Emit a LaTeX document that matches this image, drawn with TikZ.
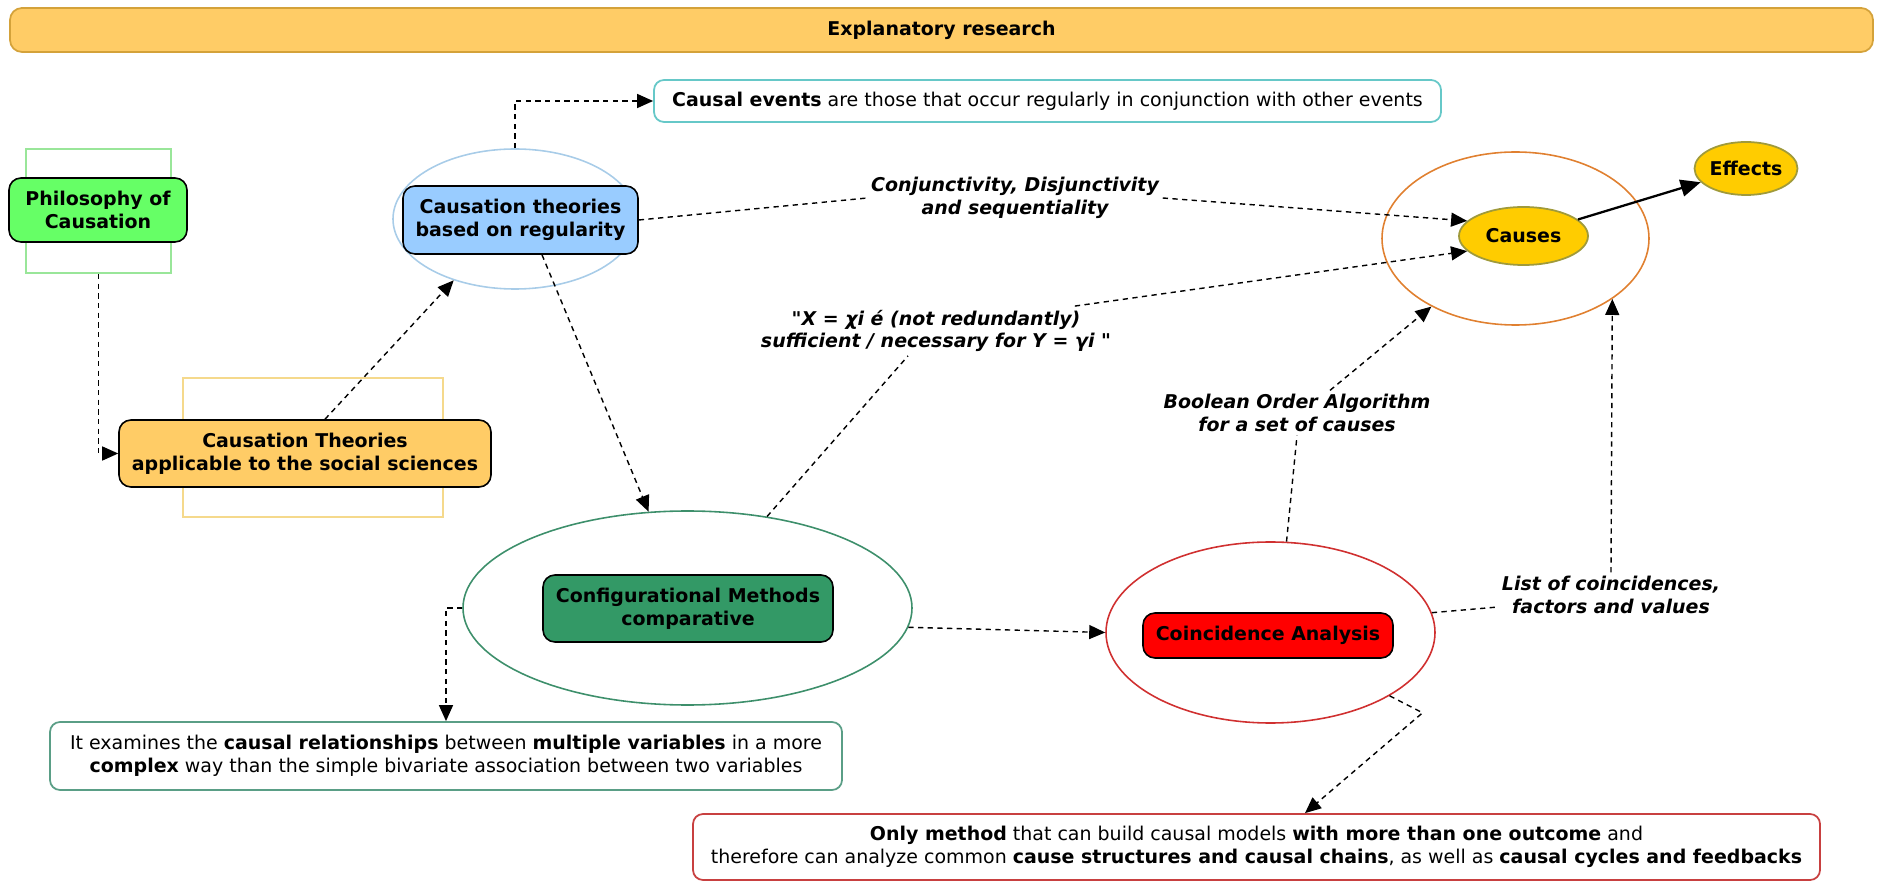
\documentclass[tikz,border=0pt]{standalone}
\usepackage{fontspec}
\setmainfont{DejaVu Sans}[Ligatures=TeXOff]
\usepackage{tikz}
\usetikzlibrary{arrows.meta,shapes.geometric}
\definecolor{bannerY}{HTML}{FFCC66}
\definecolor{bannerLine}{HTML}{D4A23A}
\definecolor{evTeal}{HTML}{66C8C8}
\definecolor{phGreen}{HTML}{66FF66}
\definecolor{phGreenL}{HTML}{99E699}
\definecolor{appY}{HTML}{FFCC66}
\definecolor{appYL}{HTML}{F5D98C}
\definecolor{regBlue}{HTML}{99CCFF}
\definecolor{regBlueL}{HTML}{A8CCE8}
\definecolor{confGreen}{HTML}{339966}
\definecolor{confGreenL}{HTML}{3D8F6B}
\definecolor{coinRed}{HTML}{FF0000}
\definecolor{coinRedL}{HTML}{D03030}
\definecolor{causOrange}{HTML}{E08030}
\definecolor{causY}{HTML}{FFCC00}
\definecolor{causLine}{HTML}{A09A3A}
\definecolor{examGreen}{HTML}{5A9E86}
\definecolor{onlyRed}{HTML}{C84040}
\newcommand{\chartsize}{\fontsize{10.8}{13}\selectfont}

\begin{document}
\begin{tikzpicture}[
  >={Triangle[length=3.2mm,width=2.8mm]},
  keybox/.style={rectangle, rounded corners=2.4mm, draw=black, line width=0.9pt,
                 align=center, font=\chartsize\bfseries},
  holder/.style={rectangle, line width=1.2pt},
  ring/.style={ellipse, line width=0.9pt},
  notebox/.style={rectangle, rounded corners=2mm, line width=1pt, fill=white,
                  align=center, inner xsep=2pt, font=\chartsize},
  linktext/.style={align=center, inner sep=2pt, font=\chartsize\bfseries\itshape},
  dashlink/.style={draw, line width=0.8pt, dash pattern=on 3pt off 2.5pt}]

  \useasboundingbox (0,0) rectangle (37.66,-17.62);

  \node[rectangle, rounded corners=2.4mm, draw=bannerLine, fill=bannerY, line width=1pt,
        minimum width=37.26cm, minimum height=0.88cm, font=\chartsize\bfseries]
        (banner) at (18.83,-0.60) {Explanatory research};

  % left column
  \node[holder, draw=phGreenL, minimum width=2.90cm, minimum height=2.48cm] (phframe) at (1.97,-4.22) {};
  \node[keybox, fill=phGreen, minimum width=3.56cm, minimum height=1.28cm] (phil) at (1.96,-4.20)
    {Philosophy of\\ Causation};

  \node[holder, draw=appYL, minimum width=5.20cm, minimum height=2.78cm] (appframe) at (6.26,-8.95) {};
  \node[keybox, fill=appY, minimum width=7.44cm, minimum height=1.34cm] (appbox) at (6.10,-9.07)
    {Causation Theories\\ applicable to the social sciences};

  \node[ring, draw=regBlueL, minimum width=4.88cm, minimum height=2.80cm] (reg) at (10.30,-4.38) {};
  \node[keybox, fill=regBlue, minimum width=4.70cm, minimum height=1.36cm] (regbox) at (10.41,-4.40)
    {Causation theories\\ based on regularity};

  % methods
  \node[ring, draw=confGreenL, minimum width=8.98cm, minimum height=3.88cm] (conf) at (13.75,-12.16) {};
  \node[keybox, fill=confGreen, minimum width=5.80cm, minimum height=1.34cm] (confbox) at (13.76,-12.17)
    {Configurational Methods\\ comparative};

  \node[ring, draw=coinRedL, minimum width=6.58cm, minimum height=3.62cm] (coin) at (25.41,-12.65) {};
  \node[keybox, fill=coinRed, minimum width=5.0cm, minimum height=0.90cm] (coinbox) at (25.36,-12.71)
    {Coincidence Analysis};

  % causes and effects
  \node[ring, draw=causOrange, minimum width=5.34cm, minimum height=3.46cm] (causring) at (30.31,-4.77) {};
  \node[ring, draw=causLine, fill=causY, line width=1pt, inner sep=0pt, font=\chartsize\bfseries,
        minimum width=2.58cm, minimum height=1.16cm] (causes) at (30.47,-4.72) {Causes};
  \node[ring, draw=causLine, fill=causY, line width=1pt, inner sep=0pt, font=\chartsize\bfseries,
        minimum width=2.04cm, minimum height=1.06cm] (effects) at (34.92,-3.37) {Effects};

  % notes
  \node[notebox, draw=evTeal, minimum width=15.74cm, minimum height=0.84cm] (events) at (20.95,-2.02)
    {\textbf{Causal events} are those that occur regularly in conjunction with other events};
  \node[notebox, draw=examGreen, minimum width=15.84cm, minimum height=1.36cm] (exam) at (8.92,-15.12)
    {It examines the \textbf{causal relationships} between \textbf{multiple variables} in a more\\
     \textbf{complex} way than the simple bivariate association between two variables};
  \node[notebox, draw=onlyRed, minimum width=22.54cm, minimum height=1.32cm] (only) at (25.13,-16.94)
    {\textbf{Only method} that can build causal models \textbf{with more than one outcome} and\\
     therefore can analyze common \textbf{cause structures and causal chains}, as well as
     \textbf{causal cycles and feedbacks}};

  % link labels
  \node[linktext] (conj) at (20.30,-3.96) {Conjunctivity, Disjunctivity\\ and sequentiality};
  \node[linktext] (xlab) at (18.72,-6.62) {"X = χi é (not redundantly)\\ sufficient / necessary for Y = γi "};
  \node[linktext] (bool) at (25.94,-8.26) {Boolean Order Algorithm\\ for a set of causes};
  \node[linktext] (list) at (32.22,-11.90) {List of coincidences,\\ factors and values};

  \draw[dashlink, ->] (phframe.south) |- (appbox.west);
  \draw[dashlink, ->] ([xshift=4mm]appbox.north) -- (reg.225);
  \draw[dashlink, ->] (reg.north) |- (events.west);
  \draw[dashlink, ->] ([xshift=4.3mm]regbox.south) -- (conf.112);
  \draw[dashlink] (regbox.east) -- (conj.west);
  \draw[dashlink, ->] (conj.east) -- (causes.165);
  \draw[dashlink] (conf.49) -- ([xshift=-5.6mm]xlab.south);
  \draw[dashlink, ->] ([xshift=-8mm]xlab.north east) -- (causes.195);
  \draw[dashlink, ->] (conf.-5) -- (coin.west);
  \draw[dashlink, ->] (conf.west) -| (exam.north);
  \draw[dashlink] (coin.80) -- (bool.south);
  \draw[dashlink, ->] ([xshift=6.6mm]bool.north) -- (causring.219);
  \draw[dashlink] (coin.7) -- ([yshift=-2.4mm]list.west);
  \draw[dashlink, ->] (list.north) -- (causring.-32);
  \draw[dashlink, ->] (coin.-28) -- ++(0.66,-0.34) -- ([xshift=9.7mm]only.north);

  \draw[-{Triangle[length=4mm,width=3.4mm]}, line width=1.3pt] (causes) -- (effects);
\end{tikzpicture}
\end{document}
